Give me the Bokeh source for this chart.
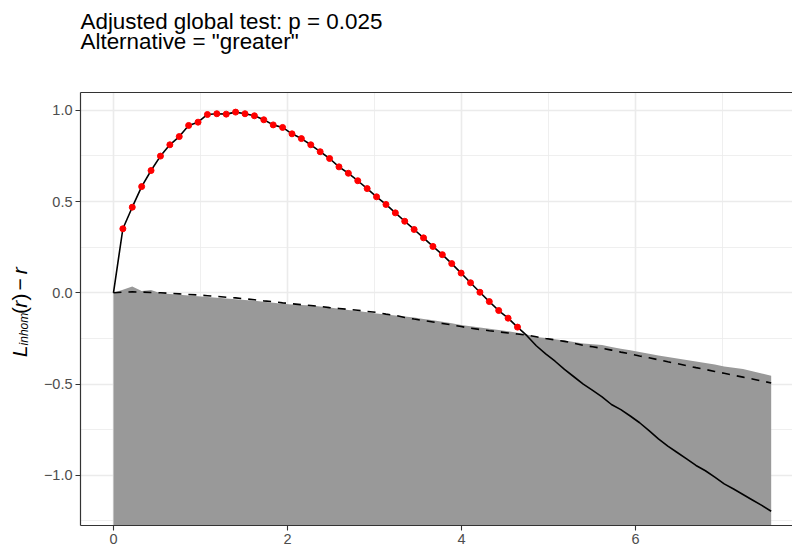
import math
from bokeh.plotting import figure
from bokeh.models import Range1d, LinearAxis, FixedTicker
from bokeh.layouts import column, row
from bokeh.embed import file_html
from bokeh.resources import INLINE
from bokeh.core.properties import value

# ---------------- data ----------------
r = [0.000, 0.108, 0.216, 0.324, 0.432, 0.540, 0.648, 0.756, 0.864, 0.972,
     1.080, 1.188, 1.296, 1.404, 1.512, 1.620, 1.728, 1.836, 1.944, 2.052,
     2.160, 2.268, 2.376, 2.484, 2.592, 2.700, 2.808, 2.916, 3.024, 3.132,
     3.240, 3.348, 3.456, 3.564, 3.672, 3.780, 3.888, 3.996, 4.104, 4.212,
     4.320, 4.428, 4.536, 4.644, 4.752, 4.860, 4.968, 5.076, 5.184, 5.292,
     5.400, 5.508, 5.616, 5.724, 5.832, 5.940, 6.048, 6.156, 6.264, 6.372,
     6.480, 6.588, 6.696, 6.804, 6.912, 7.020, 7.128, 7.236, 7.344, 7.452,
     7.560]

observed = [0.000, 0.351, 0.469, 0.582, 0.670, 0.749, 0.811, 0.856, 0.917, 0.935,
            0.977, 0.981, 0.979, 0.990, 0.981, 0.970, 0.948, 0.920, 0.906, 0.871,
            0.845, 0.811, 0.773, 0.736, 0.690, 0.655, 0.614, 0.571, 0.526, 0.484,
            0.438, 0.392, 0.347, 0.301, 0.254, 0.209, 0.160, 0.108, 0.055, 0.003,
            -0.048, -0.097, -0.139, -0.188, -0.235, -0.290, -0.335, -0.375, -0.420, -0.460,
            -0.500, -0.535, -0.570, -0.612, -0.640, -0.675, -0.712, -0.755, -0.800, -0.840,
            -0.875, -0.910, -0.946, -0.975, -1.010, -1.047, -1.075, -1.105, -1.135, -1.165,
            -1.197]

central = [0.000, 0.004, 0.005, 0.004, 0.002, 0.000, -0.003, -0.006, -0.009, -0.012,
           -0.016, -0.020, -0.024, -0.028, -0.033, -0.038, -0.044, -0.049, -0.055, -0.060,
           -0.065, -0.070, -0.075, -0.081, -0.086, -0.091, -0.096, -0.102, -0.107, -0.117,
           -0.124, -0.135, -0.144, -0.152, -0.160, -0.168, -0.176, -0.185, -0.194, -0.201,
           -0.208, -0.214, -0.220, -0.226, -0.232, -0.241, -0.250, -0.258, -0.266, -0.276,
           -0.288, -0.296, -0.304, -0.314, -0.325, -0.335, -0.346, -0.356, -0.367, -0.378,
           -0.388, -0.399, -0.410, -0.420, -0.431, -0.441, -0.452, -0.462, -0.472, -0.483,
           -0.494]

upper = [0.000, 0.017, 0.034, 0.010, 0.016, -0.002, -0.007, -0.011, -0.015, -0.019,
         -0.023, -0.027, -0.031, -0.035, -0.039, -0.044, -0.049, -0.055, -0.060, -0.064,
         -0.067, -0.070, -0.075, -0.081, -0.087, -0.094, -0.100, -0.107, -0.113, -0.119,
         -0.125, -0.130, -0.136, -0.143, -0.151, -0.159, -0.167, -0.176, -0.183, -0.190,
         -0.197, -0.204, -0.211, -0.219, -0.229, -0.242, -0.248, -0.255, -0.262, -0.270,
         -0.278, -0.282, -0.286, -0.297, -0.306, -0.315, -0.324, -0.334, -0.344, -0.352,
         -0.360, -0.368, -0.376, -0.385, -0.393, -0.404, -0.411, -0.418, -0.430, -0.442,
         -0.455]

lower_bound = -10.0  # envelope is one-sided ("greater"): lower limit is -Inf

x_ticks = [0, 2, 4, 6]
x_minor = [1, 3, 5, 7]
y_ticks = [-1.0, -0.5, 0.0, 0.5, 1.0]
y_tick_labels = ["\u22121.0", "\u22120.5", "0.0", "0.5", "1.0"]
y_minor = [-1.25, -0.75, -0.25, 0.25, 0.75]

title_lines = ["Adjusted global test: p = 0.025", 'Alternative = "greater"']

# pieces of the y-axis label  L_inhom(r) - r : (text, size, style, subscript?)
ylabel_parts = [("L", "21px", "italic", False),
                ("inhom", "12px", "italic", True),
                ("(", "21px", "normal", False),
                ("r", "21px", "italic", False),
                (")", "21px", "normal", False),
                ("\u2212", "21px", "normal", False),
                ("r", "21px", "italic", False)]
ylabel_starts = [364, 351, 316, 309, 301, 290, 272]   # page y where each piece starts

# points where the observed curve exceeds the envelope
red_r = [ri for ri, o, u in zip(r, observed, upper) if o > u]
red_v = [o for o, u in zip(observed, upper) if o > u]

# ---------------- layout ----------------
W, H = 792, 551
TITLE_H = 70          # height of the title strip
LAB_W = 36            # width of the y-label strip
MAIN_W = W - LAB_W
MAIN_H = H - TITLE_H
FRAME_LEFT = 80       # page x of the panel's left edge
FRAME_TOP = 92        # page y of the panel's top edge
BOTTOM = 26

XMIN, XMAX = -0.379, 7.805
YMIN, YMAX = -1.275, 1.0975

FONT = "Liberation Sans"
DARK = "#333333"
GRID = "#EBEBEB"


def blank(w, h):
    f = figure(width=w, height=h, output_backend="svg", toolbar_location=None,
               x_axis_type=None, y_axis_type=None, title=None,
               x_range=Range1d(0, w), y_range=Range1d(0, h), min_border=0,
               min_border_left=0, min_border_right=0, min_border_top=0, min_border_bottom=0)
    f.outline_line_color = None
    f.grid.visible = False
    f.background_fill_color = "white"
    f.border_fill_color = "white"
    return f


# title strip
tfig = blank(W, TITLE_H)
tfig.text(x=[FRAME_LEFT] * 2, y=[TITLE_H - 20.5, TITLE_H - 40.5], text=title_lines,
          text_font=value(FONT), text_font_size=value("22.4px"), text_color="black",
          text_baseline="alphabetic", text_align="left")

# y-label strip
lfig = blank(LAB_W, MAIN_H)
for (txt, size, style, sub), start in zip(ylabel_parts, ylabel_starts):
    bx = 23 if sub else 19
    lfig.text(x=[bx], y=[MAIN_H - (start - TITLE_H)], text=[txt], angle=math.pi / 2,
              text_font=value(FONT), text_font_size=value(size), text_font_style=style,
              text_color="black", text_baseline="alphabetic", text_align="left")

# main panel
p = figure(width=MAIN_W, height=MAIN_H, output_backend="svg", toolbar_location=None,
           title=None, x_range=Range1d(XMIN, XMAX), y_range=Range1d(YMIN, YMAX),
           min_border_left=FRAME_LEFT - LAB_W, min_border_right=0,
           min_border_top=FRAME_TOP - TITLE_H, min_border_bottom=BOTTOM)
p.outline_line_color = None
p.background_fill_color = "white"
p.border_fill_color = "white"

p.xaxis.ticker = FixedTicker(ticks=x_ticks, minor_ticks=x_minor)
p.yaxis.ticker = FixedTicker(ticks=y_ticks, minor_ticks=y_minor)
p.yaxis.major_label_overrides = {t: l for t, l in zip(y_ticks, y_tick_labels)}

for g in (p.xgrid, p.ygrid):
    g.grid_line_color = GRID
    g.grid_line_width = 1.6
    g.minor_grid_line_color = GRID
    g.minor_grid_line_width = 0.8

for ax in (p.xaxis, p.yaxis):
    ax.axis_line_color = DARK
    ax.axis_line_width = 1.2
    ax.major_tick_line_color = DARK
    ax.major_tick_line_width = 1.1
    ax.major_tick_out = 5
    ax.major_tick_in = 0
    ax.minor_tick_out = 0
    ax.minor_tick_in = 0
    ax.major_label_text_font = FONT
    ax.major_label_text_font_size = "14.5px"
    ax.major_label_text_color = "#4D4D4D"
    ax.major_label_standoff = 3

top_axis = LinearAxis(ticker=FixedTicker(ticks=[]), axis_line_color=DARK,
                      axis_line_width=1.2, major_tick_out=0, minor_tick_out=0,
                      major_label_text_font_size="0px")
p.add_layout(top_axis, "above")

p.varea(x=r, y1=[lower_bound] * len(r), y2=upper, fill_color="#999999")
p.line(r, central, line_color="black", line_width=1.6, line_dash="8 7")
p.line(r, observed, line_color="black", line_width=1.6)
p.scatter(red_r, red_v, size=6, fill_color="#FF0000", line_color="#FF0000")

layout = column(tfig, row(lfig, p, spacing=0), spacing=0)
open("out.html", "w").write(file_html(layout, INLINE))
